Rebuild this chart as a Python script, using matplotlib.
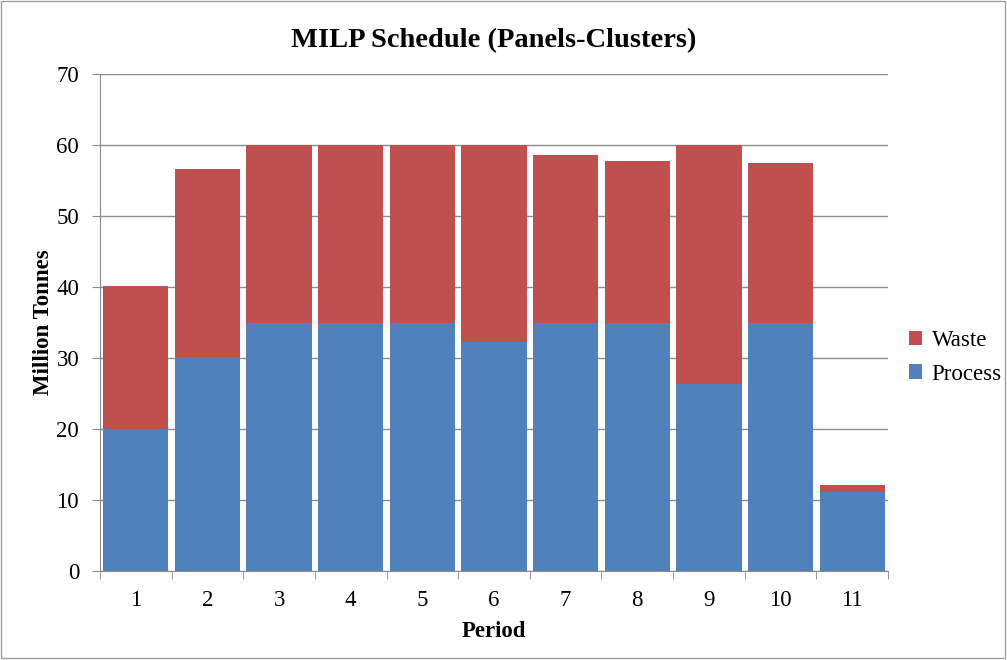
import numpy as np
import matplotlib.pyplot as plt
from matplotlib.patches import Rectangle

periods = ['1', '2', '3', '4', '5', '6', '7', '8', '9', '10', '11']
process = [20.0, 30.1, 35.0, 35.0, 35.0, 32.3, 35.0, 35.0, 26.3, 35.0, 11.1]
total = [40.1, 56.6, 60.0, 60.0, 60.0, 60.0, 58.6, 57.8, 60.0, 57.5, 12.1]
waste = [t - p for t, p in zip(total, process)]

plt.rcParams['font.family'] = ['Liberation Serif', 'DejaVu Serif']

fig = plt.figure(figsize=(10.07, 6.6), dpi=100)
ax = fig.add_axes([100 / 1007, 1 - 571 / 660, 788 / 1007, 497 / 660])

x = np.arange(len(periods))
ax.bar(x, process, width=0.91, color='#4F81BD', label='Process', zorder=2)
ax.bar(x, waste, width=0.91, bottom=process, color='#C0504D', label='Waste', zorder=2)

ax.set_xlim(-0.5, len(periods) - 0.5)
ax.set_ylim(0, 70)
ax.set_yticks(range(0, 71, 10))
ax.yaxis.grid(True, color='#8c8c8c', linewidth=1, zorder=0)
ax.set_axisbelow(True)

ax.set_xticks(x)
ax.set_xticklabels(periods)
ax.set_xticks(np.arange(-0.5, len(periods), 1), minor=True)
ax.tick_params(axis='x', which='major', length=0, pad=14, labelsize=16.5)
ax.tick_params(axis='x', which='minor', length=6, color='#8c8c8c', direction='out')
ax.tick_params(axis='y', length=6, color='#8c8c8c', labelsize=16.5, pad=9)

for side in ['top', 'right']:
    ax.spines[side].set_visible(False)
for side in ['left', 'bottom']:
    ax.spines[side].set_color('#8c8c8c')

ax.set_xlabel('Period', fontsize=16.5, fontweight='bold', labelpad=7)
ax.set_ylabel('Million Tonnes', fontsize=16.5, fontweight='bold', labelpad=2)
ax.set_title('MILP Schedule (Panels-Clusters)', fontsize=20.5, fontweight='bold', pad=19)

handles, labels = ax.get_legend_handles_labels()
ax.legend(handles[::-1], labels[::-1], loc='center left', bbox_to_anchor=(1.0, 0.43),
          frameon=False, fontsize=16.5, handlelength=0.6, handleheight=0.6,
          handletextpad=0.4, labelspacing=0.55)

fig.patches.append(Rectangle((0.001, 0.003), 0.997, 0.996, transform=fig.transFigure,
                             fill=False, edgecolor='#a0a0a0', linewidth=1))

fig.savefig('out.png', dpi=100)
